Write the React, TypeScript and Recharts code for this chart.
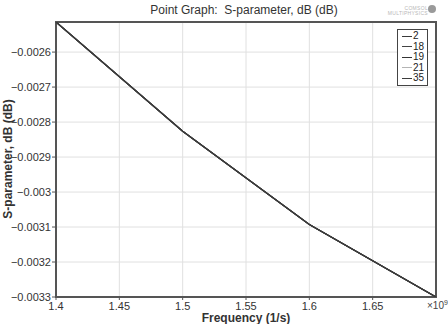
import React from "react";
import {
  CartesianGrid,
  Line,
  LineChart,
  ReferenceArea,
  XAxis,
  YAxis,
} from "recharts";

const frequencies = [1.4, 1.5, 1.6, 1.7];
const series2 = [-0.002514, -0.002826, -0.003093, -0.0033];
const series18 = [-0.002514, -0.002826, -0.003093, -0.0033];
const series19 = [-0.002514, -0.002826, -0.003093, -0.0033];
const series21 = [-0.002514, -0.002826, -0.003093, -0.0033];
const series35 = [-0.002514, -0.002826, -0.003093, -0.0033];

const xTicks = [1.4, 1.45, 1.5, 1.55, 1.6, 1.65];
const yTicks = [-0.0033, -0.0032, -0.0031, -0.003, -0.0029, -0.0028, -0.0027, -0.0026];

const seriesList = [
  { key: "s21", name: "21", values: series21, color: "#b4b4b4" },
  { key: "s2", name: "2", values: series2, color: "#3a3a3a" },
  { key: "s18", name: "18", values: series18, color: "#444444" },
  { key: "s19", name: "19", values: series19, color: "#333333" },
  { key: "s35", name: "35", values: series35, color: "#3c3c3c" },
];
const legendOrder = ["2", "18", "19", "21", "35"];

const data = frequencies.map((f, i) => {
  const row: Record<string, number> = { f };
  seriesList.forEach((s) => {
    row[s.key] = s.values[i];
  });
  return row;
});

const FONT = "'Liberation Sans', Arial, sans-serif";

const fmtY = (v: number) => {
  const s = String(Number(v.toFixed(4)));
  return s.replace("-", "\u2212");
};

function LegendBox() {
  return (
    <div
      style={{
        position: "absolute",
        left: 397,
        top: 29,
        border: "1.5px solid #444",
        background: "#fff",
        padding: "1px 3px 1px 4px",
        fontFamily: FONT,
        fontSize: 10,
        lineHeight: "10.5px",
        color: "#222",
      }}
    >
      {legendOrder.map((n) => {
        const s = seriesList.find((x) => x.name === n)!;
        return (
          <div key={n} style={{ display: "flex", alignItems: "center" }}>
            <span
              style={{
                display: "inline-block",
                width: 10,
                height: 0,
                borderTop: `1.5px solid ${s.color}`,
                marginRight: 1,
              }}
            />
            <span>{n}</span>
          </div>
        );
      })}
    </div>
  );
}

export default function App() {
  return (
    <div
      style={{
        position: "absolute",
        left: 0,
        top: 0,
        width: 448,
        height: 324,
        background: "#fff",
        overflow: "hidden",
        fontFamily: FONT,
      }}
    >
      <LineChart
        width={448}
        height={324}
        data={data}
        margin={{ top: 22, right: 12, left: 0, bottom: 0 }}
      >
        <CartesianGrid stroke="#e0e0e0" strokeWidth={1} />
        <XAxis
          dataKey="f"
          type="number"
          domain={[1.4, 1.7]}
          ticks={xTicks}
          height={27}
          tickSize={3}
          tickMargin={2}
          stroke="#555"
          tick={{ fill: "#333", fontSize: 11, fontFamily: FONT }}
          axisLine={false}
        />
        <XAxis
          xAxisId="top"
          orientation="top"
          dataKey="f"
          type="number"
          domain={[1.4, 1.7]}
          ticks={xTicks}
          height={0}
          mirror
          tickSize={3}
          tickFormatter={() => ""}
          stroke="#555"
          axisLine={false}
        />
        <YAxis
          type="number"
          domain={[-0.0033, -0.002514]}
          ticks={yTicks}
          width={56}
          tickSize={4}
          tickMargin={1}
          stroke="#555"
          tickFormatter={fmtY}
          tick={{ fill: "#333", fontSize: 11, fontFamily: FONT }}
          axisLine={false}
          allowDataOverflow
        />
        <ReferenceArea
          x1={1.4}
          x2={1.7}
          y1={-0.0033}
          y2={-0.002514}
          fill="none"
          stroke="#555"
          strokeWidth={2}
          ifOverflow="extendDomain"
        />
        {seriesList.map((s) => (
          <Line
            key={s.key}
            dataKey={s.key}
            name={s.name}
            stroke={s.color}
            strokeWidth={1.2}
            dot={false}
            isAnimationActive={false}
            type="linear"
          />
        ))}
      </LineChart>

      <LegendBox />

      <div
        style={{
          position: "absolute",
          left: 0,
          width: 488,
          top: 3,
          textAlign: "center",
          fontSize: 12,
          color: "#333",
          whiteSpace: "pre",
        }}
      >
        {"Point Graph:  S-parameter, dB (dB)"}
      </div>
      <div
        style={{
          position: "absolute",
          right: 20,
          top: 6,
          fontSize: 5,
          lineHeight: "5px",
          color: "#b8b8b8",
          textAlign: "right",
          letterSpacing: 0.3,
        }}
      >
        <div>COMSOL</div>
        <div>MULTIPHYSICS</div>
      </div>
      <div
        style={{
          position: "absolute",
          left: 428,
          top: 5,
          width: 8,
          height: 8,
          borderRadius: 4,
          background: "#9a9a9a",
        }}
      />
      <div
        style={{
          position: "absolute",
          left: 8 - 80,
          top: 160 - 8,
          width: 160,
          textAlign: "center",
          transform: "rotate(-90deg)",
          fontSize: 12,
          fontWeight: "bold",
          color: "#333",
        }}
      >
        S-parameter, dB (dB)
      </div>
      <div
        style={{
          position: "absolute",
          left: 146,
          width: 200,
          top: 311,
          textAlign: "center",
          fontSize: 12,
          fontWeight: "bold",
          color: "#333",
        }}
      >
        Frequency (1/s)
      </div>
      <div
        style={{
          position: "absolute",
          left: 427,
          top: 299,
          fontSize: 10,
          color: "#444",
          whiteSpace: "nowrap",
        }}
      >
        ×10<sup style={{ fontSize: 7 }}>9</sup>
      </div>
    </div>
  );
}
